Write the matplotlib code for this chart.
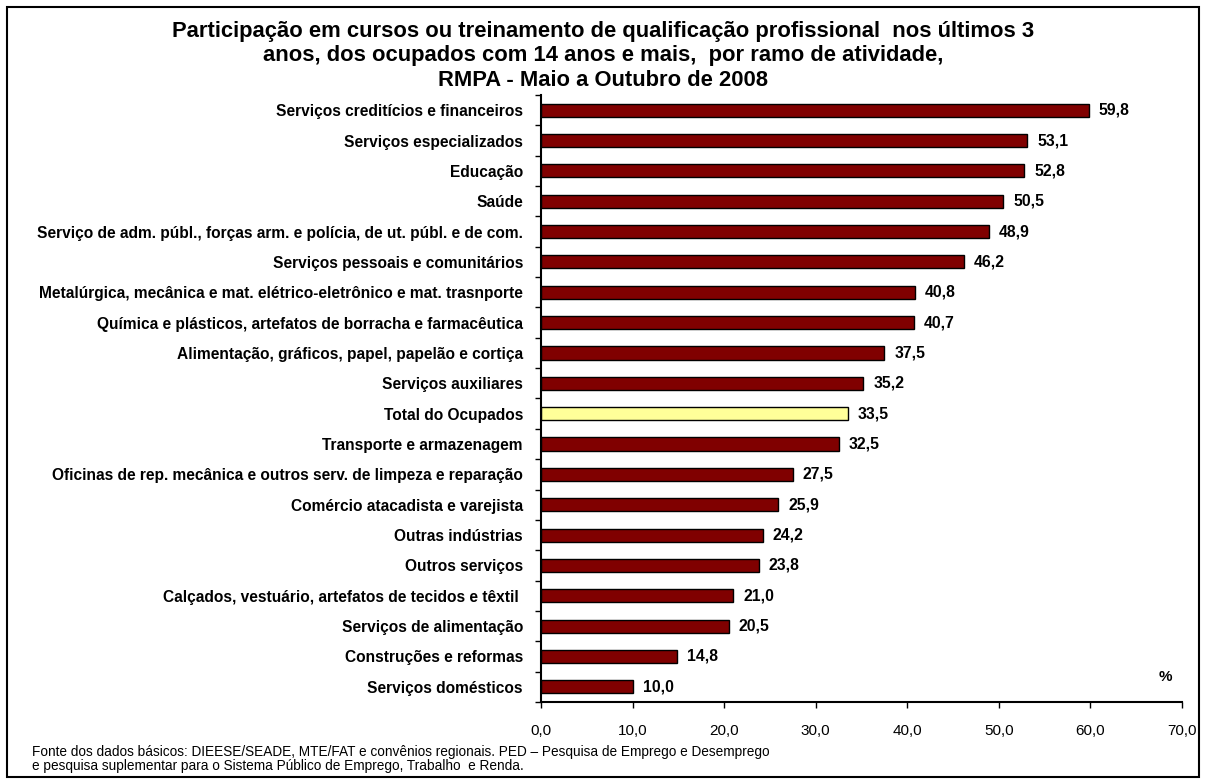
import matplotlib.pyplot as plt
from matplotlib.patches import Rectangle

plt.rcParams['font.family'] = ['Liberation Sans', 'DejaVu Sans']

categorias = [
    "Serviços creditícios e financeiros",
    "Serviços especializados",
    "Educação",
    "Saúde",
    "Serviço de adm. públ., forças arm. e polícia, de ut. públ. e de com.",
    "Serviços pessoais e comunitários",
    "Metalúrgica, mecânica e mat. elétrico-eletrônico e mat. trasnporte",
    "Química e plásticos, artefatos de borracha e farmacêutica",
    "Alimentação, gráficos, papel, papelão e cortiça",
    "Serviços auxiliares",
    "Total do Ocupados",
    "Transporte e armazenagem",
    "Oficinas de rep. mecânica e outros serv. de limpeza e reparação",
    "Comércio atacadista e varejista",
    "Outras indústrias",
    "Outros serviços",
    "Calçados, vestuário, artefatos de tecidos e têxtil ",
    "Serviços de alimentação",
    "Construções e reformas",
    "Serviços domésticos",
]
valores = [59.8, 53.1, 52.8, 50.5, 48.9, 46.2, 40.8, 40.7, 37.5, 35.2,
           33.5, 32.5, 27.5, 25.9, 24.2, 23.8, 21.0, 20.5, 14.8, 10.0]
destaque = "Total do Ocupados"

titulo = ("Participação em cursos ou treinamento de qualificação profissional  nos últimos 3\n"
          "anos, dos ocupados com 14 anos e mais,  por ramo de atividade,\n"
          "RMPA - Maio a Outubro de 2008")
fonte = ("Fonte dos dados básicos: DIEESE/SEADE, MTE/FAT e convênios regionais. PED – Pesquisa de Emprego e Desemprego\n"
         "e pesquisa suplementar para o Sistema Público de Emprego, Trabalho  e Renda.")

W, H = 1206, 782
fig = plt.figure(figsize=(W / 100, H / 100), dpi=100)
ax = fig.add_axes([541 / W, 1 - 702 / H, (1182 - 541) / W, (702 - 95) / H])

pos = list(range(len(categorias)))
cores = ['#FFFF99' if c == destaque else '#800000' for c in categorias]
ax.barh(pos, valores, height=0.43, color=cores, edgecolor='black', linewidth=1)
for p, v in zip(pos, valores):
    ax.annotate(f"{v:.1f}".replace('.', ','), (v, p), xytext=(10, 0),
                textcoords='offset pixels', va='center', ha='left',
                fontsize=11.3, fontweight='bold')

ax.set_ylim(len(categorias) - 0.5, -0.5)
ax.set_xlim(0, 70)
ax.set_yticks(pos)
ax.set_yticklabels(categorias, fontsize=11.2, fontweight='bold')
ax.set_yticks([p - 0.5 for p in pos] + [len(pos) - 0.5], minor=True)
ax.tick_params(axis='y', which='major', length=0, pad=13)
ax.tick_params(axis='y', which='minor', length=4, width=1, direction='out')
ax.set_xticks(range(0, 71, 10))
ax.set_xticklabels([f"{t:.1f}".replace('.', ',') for t in range(0, 71, 10)], fontsize=11)
ax.tick_params(axis='x', direction='out', length=4, width=1, pad=12)
for s in ['top', 'right']:
    ax.spines[s].set_visible(False)
ax.spines['left'].set_linewidth(1.5)
ax.spines['bottom'].set_linewidth(1.5)

ax.annotate("%", (1165 / W, 1 - 677 / H), xycoords='figure fraction', fontsize=11,
            fontweight='bold', ha='center', va='center')

fig.text(0.5, 1 - 56 / H, titulo, ha='center', va='center', fontsize=15.8, fontweight='bold',
         linespacing=1.25)
fig.text(32 / W, 1 - 759 / H, fonte, ha='left', va='center', fontsize=9.8,
         linespacing=1.0)

fig.patches.append(Rectangle((7 / W, 5 / H), 1192 / W, 770 / H,
                             transform=fig.transFigure, fill=False,
                             edgecolor='black', linewidth=1.5))

fig.savefig('out.png', dpi=100)
